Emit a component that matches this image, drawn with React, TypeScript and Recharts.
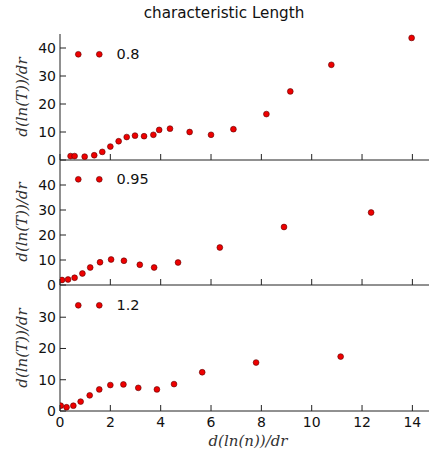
import React from 'react';
import { ScatterChart, Scatter, XAxis, YAxis } from 'recharts';

const xTicks = [0, 2, 4, 6, 8, 10, 12, 14];
const xDomain: [number, number] = [0, 14.7];

const p1X = [0.42, 0.58, 0.98, 1.36, 1.68, 2.0, 2.33, 2.65, 2.98, 3.34, 3.71, 3.94, 4.37, 5.15, 6.0, 6.89, 8.2, 9.15, 10.78, 13.97];
const p1Y = [1.4, 1.4, 1.2, 1.7, 2.9, 4.8, 6.7, 8.2, 8.7, 8.5, 9.0, 10.75, 11.2, 10.0, 9.0, 11.0, 16.4, 24.5, 34.0, 43.6];
const p1Ticks = [0, 10, 20, 30, 40];
const p1Domain: [number, number] = [0, 45];

const p2X = [0.08, 0.32, 0.58, 0.89, 1.2, 1.59, 2.03, 2.54, 3.17, 3.74, 4.69, 6.35, 8.9, 12.36];
const p2Y = [2.0, 2.2, 2.9, 4.6, 7.0, 9.1, 10.2, 9.7, 8.1, 7.0, 9.0, 15.0, 23.2, 29.0];
const p2Ticks = [0, 10, 20, 30, 40];
const p2Domain: [number, number] = [0, 50];

const p3X = [0.03, 0.26, 0.53, 0.82, 1.18, 1.56, 2.0, 2.52, 3.11, 3.85, 4.53, 5.65, 7.79, 11.15];
const p3Y = [1.7, 1.2, 1.7, 3.0, 5.0, 6.9, 8.3, 8.5, 7.4, 6.9, 8.6, 12.4, 15.5, 17.4];
const p3Ticks = [0, 10, 20, 30];
const p3Domain: [number, number] = [0, 40.3];

const seriesNames = ['0.8', '0.95', '1.2'];

const FONT = '"DejaVu Sans", sans-serif';
const AXIS = '#222';
const TICK_FS = 14;

const toData = (xs: number[], ys: number[]) => xs.map((x, i) => ({ x, y: ys[i] }));

const Dot = (props: any) => {
  const { cx, cy } = props;
  if (cx == null || cy == null) return null;
  return <circle cx={cx} cy={cy} r={2.9} fill="#ee0000" stroke="#5a0000" strokeWidth={0.6} />;
};

const BottomTick = (props: any) => {
  const { x, y, payload, showLabel } = props;
  return (
    <g>
      <line x1={x} x2={x} y1={y} y2={y - 6} stroke={AXIS} strokeWidth={1} />
      {showLabel ? (
        <text x={x} y={y + 11} textAnchor="middle" dominantBaseline="central" fontSize={TICK_FS} fontFamily={FONT} fill="#111">
          {payload.value}
        </text>
      ) : null}
    </g>
  );
};

const TopTick = (props: any) => {
  const { x, y } = props;
  return <line x1={x} x2={x} y1={y} y2={y + 6} stroke={AXIS} strokeWidth={1} />;
};

const LeftTick = (props: any) => {
  const { x, y, payload } = props;
  return (
    <g>
      <line x1={x} x2={x + 6} y1={y} y2={y} stroke={AXIS} strokeWidth={1} />
      <text x={x - 4} y={y} textAnchor="end" dominantBaseline="central" fontSize={TICK_FS} fontFamily={FONT} fill="#111">
        {payload.value}
      </text>
    </g>
  );
};

const RightTick = (props: any) => {
  const { x, y } = props;
  return <line x1={x} x2={x - 6} y1={y} y2={y} stroke={AXIS} strokeWidth={1} />;
};

type PanelProps = {
  top: number;
  height: number;
  marginTop: number;
  xAxisHeight: number;
  data: { x: number; y: number }[];
  yDomain: [number, number];
  yTicks: number[];
  showXLabels: boolean;
};

const Panel = ({ top, height, marginTop, xAxisHeight, data, yDomain, yTicks, showXLabels }: PanelProps) => (
  <div style={{ position: 'absolute', left: 0, top }}>
    <ScatterChart width={430} height={height} margin={{ top: marginTop, right: 0, bottom: 0, left: 0 }}>
      <XAxis
        xAxisId="b"
        type="number"
        dataKey="x"
        domain={xDomain}
        ticks={xTicks}
        interval={0}
        allowDataOverflow
        orientation="bottom"
        height={xAxisHeight}
        tickSize={0}
        tickMargin={0}
        tickLine={false}
        axisLine={{ stroke: AXIS, strokeWidth: 1 }}
        tick={<BottomTick showLabel={showXLabels} />}
      />
      <XAxis
        xAxisId="t"
        type="number"
        dataKey="x"
        domain={xDomain}
        ticks={xTicks}
        interval={0}
        allowDataOverflow
        orientation="top"
        height={0}
        tickSize={0}
        tickMargin={0}
        tickLine={false}
        axisLine={{ stroke: AXIS, strokeWidth: 1 }}
        tick={<TopTick />}
      />
      <YAxis
        yAxisId="l"
        type="number"
        dataKey="y"
        domain={yDomain}
        ticks={yTicks}
        interval={0}
        allowDataOverflow
        orientation="left"
        width={60}
        tickSize={0}
        tickMargin={0}
        tickLine={false}
        axisLine={{ stroke: AXIS, strokeWidth: 1 }}
        tick={<LeftTick />}
      />
      <YAxis
        yAxisId="r"
        type="number"
        dataKey="y"
        domain={yDomain}
        ticks={yTicks}
        interval={0}
        allowDataOverflow
        orientation="right"
        width={0}
        tickSize={0}
        tickMargin={0}
        tickLine={false}
        axisLine={{ stroke: AXIS, strokeWidth: 1 }}
        tick={<RightTick />}
      />
      <Scatter data={data} xAxisId="b" yAxisId="l" shape={<Dot />} isAnimationActive={false} />
      <Scatter data={data} xAxisId="t" yAxisId="r" shape={() => <g />} isAnimationActive={false} />
    </ScatterChart>
  </div>
);

const LegendMark = ({ y, label }: { y: number; label: string }) => (
  <g>
    <circle cx={78.3} cy={y} r={2.9} fill="#ee0000" stroke="#5a0000" strokeWidth={0.6} />
    <circle cx={99.3} cy={y} r={2.9} fill="#ee0000" stroke="#5a0000" strokeWidth={0.6} />
    <text x={116.5} y={y} dominantBaseline="central" fontSize={14.5} fontFamily={FONT} fill="#111">
      {label}
    </text>
  </g>
);

const YLabel = ({ cy }: { cy: number }) => (
  <text
    x={22}
    y={cy}
    transform={`rotate(-90 22 ${cy})`}
    textAnchor="middle"
    dominantBaseline="central"
    fontSize={15}
    fontStyle="italic"
    fontFamily='"DejaVu Serif", serif'
    fill="#333"
  >
    d(ln(T))/dr
  </text>
);

export default function App() {
  return (
    <div style={{ position: 'absolute', left: 0, top: 0, width: 429, height: 452, overflow: 'hidden', background: '#fff' }}>
      <Panel top={0} height={170} marginTop={34} xAxisHeight={10} data={toData(p1X, p1Y)} yDomain={p1Domain} yTicks={p1Ticks} showXLabels={false} />
      <Panel top={160} height={135} marginTop={0} xAxisHeight={10} data={toData(p2X, p2Y)} yDomain={p2Domain} yTicks={p2Ticks} showXLabels={false} />
      <Panel top={285} height={167} marginTop={0} xAxisHeight={41} data={toData(p3X, p3Y)} yDomain={p3Domain} yTicks={p3Ticks} showXLabels={true} />
      <svg width={429} height={452} style={{ position: 'absolute', left: 0, top: 0, pointerEvents: 'none' }}>
        <text x={224} y={13} textAnchor="middle" dominantBaseline="central" fontSize={15.2} fontFamily={FONT} fill="#111">
          characteristic Length
        </text>
        <LegendMark y={54.3} label={seriesNames[0]} />
        <LegendMark y={179.3} label={seriesNames[1]} />
        <LegendMark y={305.3} label={seriesNames[2]} />
        <YLabel cy={97} />
        <YLabel cy={222} />
        <YLabel cy={348} />
        <text x={248} y={441} textAnchor="middle" dominantBaseline="central" fontSize={15} fontStyle="italic" fontFamily='"DejaVu Serif", serif' fill="#333">
          d(ln(n))/dr
        </text>
      </svg>
    </div>
  );
}
